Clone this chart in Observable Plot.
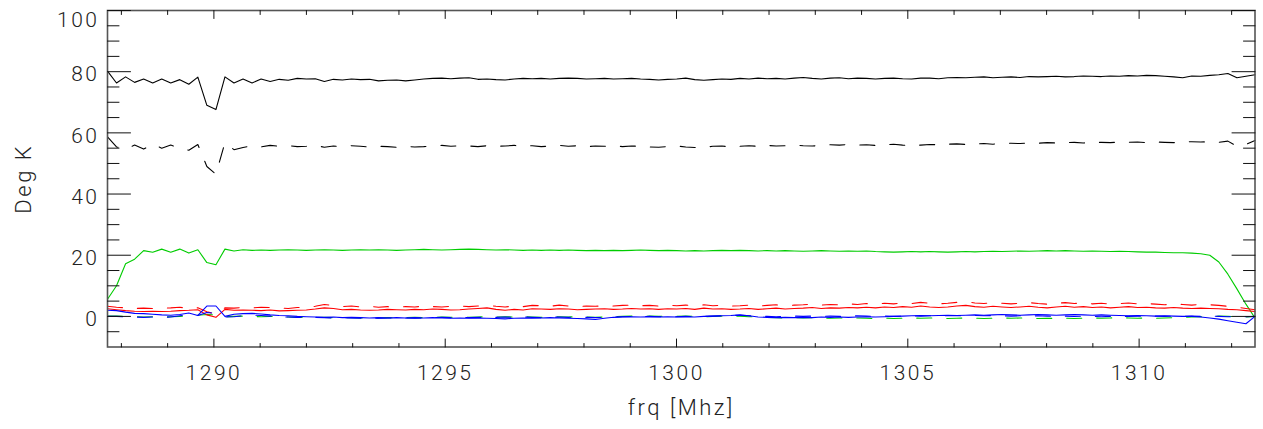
<!DOCTYPE html>
<html>
<head>
<meta charset="utf-8">
<script src="https://cdn.jsdelivr.net/npm/d3@7"></script>
<script src="https://cdn.jsdelivr.net/npm/@observablehq/plot@0.6"></script>
<style>
  html, body { margin: 0; padding: 0; background: #fff; }
  #chart svg { display: block; }
</style>
</head>
<body>
<div id="chart"></div>
<script>
// Channel frequencies (MHz)
const freq = [
  1287.700, 1287.895, 1288.091, 1288.286, 1288.481, 1288.677, 1288.872, 1289.067, 1289.263, 1289.458,
  1289.653, 1289.848, 1290.044, 1290.239, 1290.434, 1290.630, 1290.825, 1291.020, 1291.216, 1291.411,
  1291.606, 1291.802, 1291.997, 1292.192, 1292.388, 1292.583, 1292.778, 1292.973, 1293.169, 1293.364,
  1293.559, 1293.755, 1293.950, 1294.145, 1294.341, 1294.536, 1294.731, 1294.927, 1295.122, 1295.317,
  1295.513, 1295.708, 1295.903, 1296.098, 1296.294, 1296.489, 1296.684, 1296.880, 1297.075, 1297.270,
  1297.466, 1297.661, 1297.856, 1298.052, 1298.247, 1298.442, 1298.638, 1298.833, 1299.028, 1299.223,
  1299.419, 1299.614, 1299.809, 1300.005, 1300.200, 1300.395, 1300.591, 1300.786, 1300.981, 1301.177,
  1301.372, 1301.567, 1301.763, 1301.958, 1302.153, 1302.348, 1302.544, 1302.739, 1302.934, 1303.130,
  1303.325, 1303.520, 1303.716, 1303.911, 1304.106, 1304.302, 1304.497, 1304.692, 1304.888, 1305.083,
  1305.278, 1305.473, 1305.669, 1305.864, 1306.059, 1306.255, 1306.450, 1306.645, 1306.841, 1307.036,
  1307.231, 1307.427, 1307.622, 1307.817, 1308.013, 1308.208, 1308.403, 1308.598, 1308.794, 1308.989,
  1309.184, 1309.380, 1309.575, 1309.770, 1309.966, 1310.161, 1310.356, 1310.552, 1310.747, 1310.942,
  1311.138, 1311.333, 1311.528, 1311.723, 1311.919, 1312.114, 1312.309, 1312.505
];

const blackSolid = [
  80.2, 76.3, 78.3, 76.5, 77.6, 76.3, 77.6, 76.3, 77.4, 75.9, 78.2, 69.0, 67.6, 78.3, 76.3, 77.6, 76.3, 77.6, 76.8, 77.5, 77.2, 77.8,
  77.6, 77.7, 76.8, 77.5, 77.3, 77.6, 77.4, 77.5, 77.0, 77.2, 77.3, 77.0, 77.3, 77.6, 77.8, 77.9, 77.7, 77.9, 78.0,
  77.5, 77.6, 77.4, 77.3, 77.6, 77.8, 77.7, 77.8, 77.6, 77.8, 77.9, 77.8, 77.6, 77.7, 77.8, 77.6, 77.7, 77.8, 77.6, 77.5,
  77.3, 77.5, 77.6, 77.9, 77.4, 77.2, 77.4, 77.6, 77.5, 77.8, 77.6, 77.9, 77.7, 77.8, 77.6, 77.9, 78.1, 77.8, 77.6, 77.9,
  78.0, 77.7, 77.9, 77.8, 77.6, 77.8, 77.9, 77.7, 77.6, 77.9, 77.9, 77.7, 78.0, 78.1, 78.0, 78.2, 78.3, 78.0, 78.2, 78.3,
  78.1, 78.4, 78.3, 78.4, 78.5, 78.3, 78.4, 78.6, 78.5, 78.4, 78.6, 78.5, 78.7, 78.6, 78.8, 78.7, 78.5, 78.3, 78.0, 78.6,
  78.5, 78.8, 79.0, 79.4, 78.0, 78.5, 79.0
];

const blackDashed = [
  58.7, 55.4, 54.7, 56.0, 54.7, 56.3, 55.0, 56.0, 55.0, 54.3, 56.2, 49.0, 46.5, 56.8, 54.5, 55.2, 55.8, 55.4, 55.9, 55.6, 55.8, 55.5,
  55.6, 55.9, 55.3, 55.7, 55.5, 55.8, 55.6, 55.4, 55.6, 55.5, 55.3, 55.6, 55.4, 55.5, 55.7, 55.9, 55.6, 55.8, 55.7,
  55.5, 55.8, 55.6, 55.7, 55.9, 55.6, 55.8, 55.5, 55.7, 55.9, 55.6, 55.8, 55.5, 55.7, 55.6, 55.8, 55.5, 55.7, 55.6, 55.4,
  55.3, 55.5, 55.7, 55.4, 55.2, 55.3, 55.6, 55.7, 55.4, 55.6, 55.8, 55.6, 55.9, 55.7, 55.8, 56.0, 55.8, 55.7, 55.9, 56.1,
  56.0, 56.2, 56.0, 56.1, 55.9, 56.1, 56.3, 56.0, 55.8, 56.0, 56.2, 56.1, 56.3, 56.4, 56.2, 56.4, 56.5, 56.3, 56.5, 56.6,
  56.5, 56.7, 56.6, 56.8, 56.7, 56.8, 56.9, 56.7, 56.8, 56.9, 56.8, 57.0, 56.9, 57.0, 56.8, 57.0, 56.9, 56.8, 57.0, 57.1,
  57.0, 57.1, 56.9, 57.3, 55.6, 56.2, 57.5
];

const greenSolid = [
  5.6, 10.0, 17.2, 18.7, 21.5, 21.0, 22.0, 21.0, 22.0, 20.7, 21.8, 17.6, 16.9, 22.0, 21.4, 21.8, 21.6, 21.7, 21.6, 21.7, 21.8, 21.7,
  21.6, 21.7, 21.8, 21.7, 21.6, 21.7, 21.8, 21.7, 21.8, 21.7, 21.6, 21.7, 21.8, 21.9, 21.8, 21.7, 21.8, 21.9, 22.0,
  21.9, 21.8, 21.7, 21.8, 21.7, 21.6, 21.7, 21.6, 21.7, 21.6, 21.7, 21.6, 21.5, 21.6, 21.5, 21.6, 21.5, 21.6, 21.7, 21.6,
  21.5, 21.6, 21.5, 21.4, 21.5, 21.4, 21.5, 21.6, 21.5, 21.6, 21.5, 21.4, 21.5, 21.4, 21.5, 21.4, 21.3, 21.4, 21.5, 21.4,
  21.3, 21.4, 21.3, 21.4, 21.2, 21.1, 21.0, 21.1, 21.2, 21.1, 21.2, 21.1, 21.0, 21.1, 21.2, 21.1, 21.2, 21.3, 21.2, 21.3,
  21.4, 21.3, 21.4, 21.5, 21.4, 21.5, 21.4, 21.3, 21.4, 21.3, 21.2, 21.3, 21.2, 21.1, 21.0, 21.0, 20.9, 20.8, 20.8, 20.7,
  20.5, 20.0, 17.8, 13.8, 9.0, 4.0, -0.5
];

const greenDashed = [
  0.1, 0.1, 0.0, -0.1, -0.2, -0.1, -0.2, -0.1, 0.0, 0.2, 0.4, 0.6, 0.5, -0.1, 0.0, 0.1, 0.0, -0.1, 0.0, -0.1, -0.2, -0.3,
  -0.3, -0.4, -0.3, -0.4, -0.5, -0.4, -0.5, -0.4, -0.5, -0.4, -0.5, -0.4, -0.3, -0.4, -0.3, -0.2, -0.3, -0.2, -0.3,
  -0.2, -0.1, -0.2, -0.1, -0.2, -0.1, -0.2, -0.3, -0.2, -0.1, -0.2, -0.1, -0.2, -0.3, -0.2, -0.1, 0.0, 0.1, 0.0, 0.1,
  0.0, 0.1, 0.0, 0.1, 0.0, -0.1, 0.0, 0.1, 0.0, 0.1, -0.1, -0.2, -0.3, -0.4, -0.5, -0.4, -0.5, -0.4, -0.5, -0.6,
  -0.5, -0.6, -0.5, -0.6, -0.7, -0.6, -0.7, -0.6, -0.5, -0.6, -0.5, -0.6, -0.7, -0.6, -0.5, -0.6, -0.7, -0.6, -0.5, -0.6,
  -0.5, -0.6, -0.7, -0.6, -0.7, -0.6, -0.7, -0.6, -0.5, -0.6, -0.5, -0.4, -0.5, -0.6, -0.5, -0.6, -0.5, -0.4, -0.3, -0.2,
  -0.1, 0.0, 0.1, 0.0, -0.1, -0.2, 0.0
];

const redSolid = [
  2.5, 2.2, 1.9, 1.7, 1.6, 1.7, 1.6, 1.7, 1.9, 2.0, 2.2, 0.5, -0.3, 2.3, 2.0, 2.1, 2.0, 1.9, 2.1, 1.8, 1.9, 2.0,
  2.1, 2.4, 2.8, 2.6, 2.2, 2.3, 2.1, 2.0, 2.1, 2.3, 2.2, 2.1, 2.3, 2.2, 2.4, 2.3, 2.1, 2.2, 2.4,
  2.6, 2.8, 2.3, 2.0, 2.3, 2.1, 2.5, 2.4, 2.3, 2.5, 2.4, 2.2, 2.3, 2.4, 2.5, 2.3, 2.4, 2.6, 2.4, 2.5,
  2.3, 2.5, 2.4, 2.6, 2.3, 2.7, 2.4, 2.5, 2.3, 2.4, 2.6, 2.3, 2.5, 2.7, 2.4, 2.6, 2.7, 2.9, 2.6, 2.8,
  2.7, 2.9, 2.8, 3.0, 2.8, 3.1, 2.9, 3.2, 3.0, 3.4, 3.1, 2.9, 3.1, 3.4, 3.6, 3.2, 3.0, 3.3, 3.1, 2.9,
  3.1, 3.3, 3.0, 2.8, 3.1, 3.3, 3.0, 3.2, 2.9, 3.1, 2.8, 3.0, 3.2, 2.9, 3.0, 2.8, 2.7, 2.9, 2.7, 2.6,
  2.7, 2.6, 2.5, 2.3, 2.2, 1.9, 1.6
];

const redDashed = [
  3.3, 3.0, 2.8, 2.6, 2.7, 2.6, 2.7, 2.8, 3.0, 2.5, 2.8, 1.5, 0.8, 2.8, 2.7, 2.9, 2.8, 3.0, 2.9, 2.8, 2.6, 2.9,
  3.0, 3.3, 3.9, 3.6, 3.2, 3.4, 3.1, 3.3, 3.0, 3.2, 3.0, 3.2, 3.1, 3.3, 3.2, 3.1, 3.3, 3.4, 3.2,
  3.4, 3.6, 3.3, 3.1, 3.4, 3.2, 3.6, 3.5, 3.3, 3.7, 3.4, 3.2, 3.4, 3.3, 3.5, 3.4, 3.6, 3.7, 3.5, 3.6,
  3.4, 3.6, 3.5, 3.7, 3.4, 3.8, 3.5, 3.6, 3.4, 3.5, 3.7, 3.4, 3.6, 3.8, 3.5, 3.7, 3.8, 4.0, 3.7, 3.9,
  3.8, 4.1, 3.9, 4.2, 4.0, 4.3, 4.1, 4.4, 4.2, 4.6, 4.3, 4.1, 4.3, 4.6, 4.8, 4.4, 4.2, 4.5, 4.3, 4.1,
  4.3, 4.5, 4.2, 4.0, 4.3, 4.5, 4.2, 4.4, 4.1, 4.3, 4.0, 4.2, 4.4, 4.1, 4.2, 4.0, 3.8, 4.1, 3.9, 3.7,
  3.9, 3.8, 3.6, 3.3, 3.0, 2.6, 2.2
];

const blueSolid = [
  2.0, 1.9, 1.4, 1.0, 0.9, 0.7, 0.5, 0.4, 0.6, 1.1, 0.3, 3.4, 3.4, 0.0, 0.7, 0.9, 1.0, 0.8, 0.5, 0.3, 0.2, 0.0,
  -0.1, -0.2, -0.3, -0.2, -0.4, -0.3, -0.4, -0.5, -0.4, -0.5, -0.4, -0.5, -0.6, -0.5, -0.4, -0.5, -0.6, -0.5, -0.6,
  -0.5, -0.6, -0.7, -0.8, -0.6, -0.5, -0.6, -0.5, -0.4, -0.5, -0.6, -0.7, -0.8, -1.0, -0.6, -0.3, -0.2, -0.1, -0.2, -0.1,
  -0.2, -0.1, -0.2, -0.1, -0.2, 0.0, 0.1, 0.2, 0.3, 0.5, 0.2, -0.2, -0.3, -0.4, -0.3, -0.4, -0.3, -0.4, -0.2, -0.3,
  -0.2, -0.3, -0.2, -0.1, -0.2, -0.1, 0.0, 0.1, 0.2, 0.3, 0.2, 0.3, 0.4, 0.3, 0.4, 0.5, 0.4, 0.5, 0.6, 0.5,
  0.4, 0.5, 0.6, 0.5, 0.4, 0.5, 0.6, 0.5, 0.4, 0.5, 0.4, 0.3, 0.2, 0.3, 0.2, 0.1, 0.2, 0.1, 0.0, 0.0,
  -0.2, -0.5, -0.9, -1.4, -1.9, -2.4, 0.0
];

const blueDashed = [
  0.0, 0.0, -0.1, -0.2, -0.3, -0.2, -0.3, -0.2, 0.2, 0.6, 0.3, 1.3, 1.0, -0.2, -0.1, 0.2, 0.4, 0.3, 0.1, -0.1, -0.2, -0.3,
  -0.4, -0.3, -0.4, -0.5, -0.4, -0.5, -0.6, -0.5, -0.6, -0.5, -0.6, -0.5, -0.4, -0.5, -0.4, -0.3, -0.4, -0.3, -0.4,
  -0.3, -0.4, -0.3, -0.2, -0.3, -0.2, -0.3, -0.4, -0.3, -0.2, -0.3, -0.2, -0.3, -0.4, -0.3, -0.2, -0.1, 0.0, -0.1, 0.0,
  -0.1, 0.0, -0.1, 0.0, -0.1, 0.0, 0.1, 0.2, 0.3, 0.4, 0.2, 0.1, 0.0, -0.1, 0.0, 0.1, 0.0, 0.1, 0.0, 0.1,
  0.0, 0.1, 0.2, 0.1, 0.0, 0.1, 0.0, 0.1, 0.2, 0.1, 0.2, 0.3, 0.2, 0.3, 0.2, 0.3, 0.2, 0.3, 0.2, 0.1,
  0.2, 0.1, 0.2, 0.1, 0.0, 0.1, 0.0, 0.1, 0.0, -0.1, 0.0, -0.1, 0.0, 0.1, 0.0, 0.1, 0.0, 0.1, 0.0, 0.1,
  0.0, 0.1, 0.0, -0.1, 0.0, -0.1, 0.0
];

// Axis ticks
const majorX = [1290, 1295, 1300, 1305, 1310];
const minorX = [1288, 1289, 1291, 1292, 1293, 1294, 1296, 1297, 1298, 1299, 1301, 1302, 1303, 1304, 1306, 1307, 1308, 1309, 1311, 1312];
const majorY = [0, 20, 40, 60, 80, 100];
const minorY = [-5, 5, 10, 15, 25, 30, 35, 45, 50, 55, 65, 70, 75, 85, 90, 95];

const xLabel = "frq [Mhz]";
const yLabel = "Deg K";

const seriesList = [
  {name: "blackSolid", values: blackSolid, color: "#000000", dash: null},
  {name: "blackDashed", values: blackDashed, color: "#000000", dash: "15,15"},
  {name: "greenSolid", values: greenSolid, color: "#00cc00", dash: null},
  {name: "greenDashed", values: greenDashed, color: "#00cc00", dash: "15,15"},
  {name: "redSolid", values: redSolid, color: "#ff0000", dash: null},
  {name: "redDashed", values: redDashed, color: "#ff0000", dash: "15,15"},
  {name: "blueSolid", values: blueSolid, color: "#0000ff", dash: null},
  {name: "blueDashed", values: blueDashed, color: "#0000ff", dash: "15,15"}
];

for (const s of seriesList) {
  if (s.values.length !== freq.length) throw new Error(s.name + " has " + s.values.length + " values, expected " + freq.length);
}

const tickShape = {
  draw(context, l) {
    context.moveTo(0, 0);
    context.lineTo(0, -l);
  }
};

const tickMarks = (data, dim, frameAnchor, rotate, length) =>
  Plot.vector(data, {
    [dim]: d => d,
    frameAnchor,
    rotate,
    length,
    anchor: "start",
    shape: tickShape,
    stroke: "#111",
    strokeWidth: 1
  });

const lineMarks = seriesList.map(s =>
  Plot.line(s.values, {
    x: (d, i) => freq[i],
    y: d => d,
    stroke: s.color,
    strokeWidth: 1.1,
    strokeDasharray: s.dash
  })
);

const fmt = d => String(d);

const chart = Plot.plot({
  width: 1263,
  height: 429,
  marginLeft: 107,
  marginRight: 8.5,
  marginTop: 10,
  marginBottom: 82.5,
  x: {domain: [freq[0], freq[freq.length - 1]]},
  y: {domain: [-10, 100]},
  style: {
    fontFamily: "Roboto, 'Liberation Sans', sans-serif",
    fontWeight: 300,
    fontSize: "21px",
    color: "#222",
    background: "#fff"
  },
  marks: [
    ...lineMarks,
    Plot.frame({stroke: "#555", strokeWidth: 1.6}),
    tickMarks(majorY, "y", "left", 90, 23),
    tickMarks(minorY, "y", "left", 90, 11.5),
    tickMarks(majorY, "y", "right", -90, 23),
    tickMarks(minorY, "y", "right", -90, 11.5),
    tickMarks(majorX, "x", "bottom", 0, 8),
    tickMarks(minorX, "x", "bottom", 0, 3.5),
    tickMarks(majorX, "x", "top", 180, 8),
    tickMarks(minorX, "x", "top", 180, 4),
    Plot.axisX(majorX, {anchor: "bottom", tickSize: 0, tickPadding: 18, label: null, fontSize: 21, tickFormat: fmt}),
    Plot.axisY(majorY.filter(d => d < 100), {anchor: "left", tickSize: 0, tickPadding: 8, label: null, fontSize: 21, dy: 3, tickFormat: fmt}),
    Plot.axisY(majorY.filter(d => d >= 100), {anchor: "left", tickSize: 0, tickPadding: 8, label: null, fontSize: 21, dy: 9.5, tickFormat: fmt}),
    Plot.text([xLabel], {frameAnchor: "bottom", dy: 68, lineAnchor: "bottom", textAnchor: "middle", fontSize: 22, fill: "#222"}),
    Plot.text([yLabel], {frameAnchor: "left", dx: -77, lineAnchor: "bottom", textAnchor: "middle", rotate: -90, fontSize: 22, fill: "#222"})
  ]
});

chart.querySelectorAll("text").forEach(t => t.style.letterSpacing = "2.5px");
document.getElementById("chart").appendChild(chart);
</script>
</body>
</html>
